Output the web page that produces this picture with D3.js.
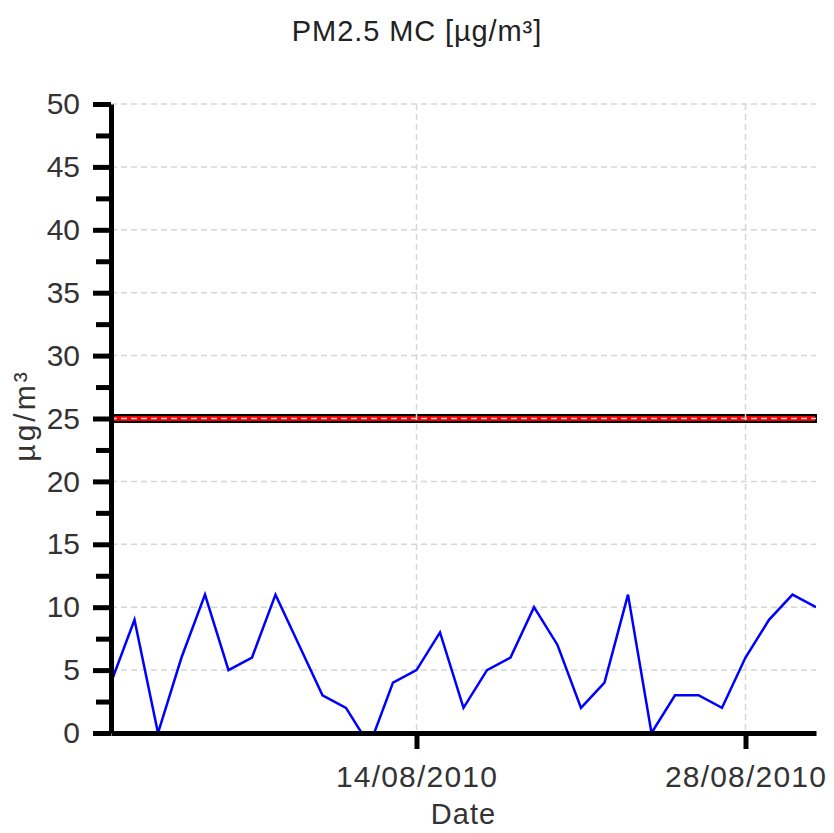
<!DOCTYPE html>
<html>
<head>
<meta charset="utf-8">
<script src="https://cdn.jsdelivr.net/npm/d3@7"></script>
<style>
  body { margin: 0; background: #fff; }
  svg { font-family: "Liberation Sans", Arial, sans-serif; }
</style>
</head>
<body>
<div id="chart"></div>
<script>
// Daily PM2.5 readings, August 2010
const startDate = "01/08/2010";
const endDate = "31/08/2010";
const pm25 = [4, 9, 0, 6, 11, 5, 6, 11, 7, 3, 2, -1, 4, 5, 8, 2, 5, 6, 10, 7,
  2, 4, 11, 0, 3, 3, 2, 6, 9, 11, 10];
const dateTicks = ["14/08/2010", "28/08/2010"];
const yTicks = [0, 5, 10, 15, 20, 25, 30, 35, 40, 45, 50];
const yMinorTicks = [2.5, 7.5, 12.5, 17.5, 22.5, 27.5, 32.5, 37.5, 42.5, 47.5];
const limitValue = 25;

const width = 834;
const height = 833;
const margin = { top: 104, right: 18, bottom: 100, left: 111 };

const parse = d3.timeParse("%d/%m/%Y");
const fmt = d3.timeFormat("%d/%m/%Y");
const t0 = parse(startDate);
const t1 = parse(endDate);
const days = d3.timeDay.range(t0, d3.timeDay.offset(t1, 1));
const data = days.map((d, i) => ({ date: d, value: pm25[i] }));

const svg = d3.select("#chart").append("svg")
  .attr("width", width)
  .attr("height", height);

const x = d3.scaleTime().domain([t0, t1]).range([margin.left, width - margin.right]);
const y = d3.scaleLinear().domain([0, 50]).range([height - margin.bottom, margin.top]);

svg.append("defs").append("clipPath").attr("id", "plot-clip")
  .append("rect")
  .attr("x", margin.left)
  .attr("y", margin.top)
  .attr("width", width - margin.left - margin.right)
  .attr("height", height - margin.top - margin.bottom);

// limit band at 25
svg.append("rect")
  .attr("x", x(t0))
  .attr("y", y(limitValue) - 3.5)
  .attr("width", x(t1) - x(t0))
  .attr("height", 7)
  .attr("fill", "#f00000")
  .attr("stroke", "#000")
  .attr("stroke-width", 2);

// grid
svg.append("g")
  .selectAll("line")
  .data(yTicks.filter(v => v > 0))
  .join("line")
  .attr("x1", margin.left)
  .attr("x2", width - margin.right)
  .attr("y1", d => y(d))
  .attr("y2", d => y(d))
  .attr("stroke", "#d6d6d6")
  .attr("stroke-width", 1.5)
  .attr("stroke-dasharray", "6,4");

svg.append("g")
  .selectAll("line")
  .data(dateTicks.map(parse))
  .join("line")
  .attr("x1", d => x(d))
  .attr("x2", d => x(d))
  .attr("y1", margin.top)
  .attr("y2", height - margin.bottom)
  .attr("stroke", "#d6d6d6")
  .attr("stroke-width", 1.5)
  .attr("stroke-dasharray", "6,4");

// data line
const line = d3.line()
  .x(d => x(d.date))
  .y(d => y(d.value));

svg.append("path")
  .datum(data)
  .attr("clip-path", "url(#plot-clip)")
  .attr("fill", "none")
  .attr("stroke", "#0000ff")
  .attr("stroke-width", 2.5)
  .attr("d", line);

// axes
svg.append("g")
  .attr("transform", `translate(${margin.left},0)`)
  .call(d3.axisLeft(y).tickValues(yTicks).tickSize(18).tickSizeOuter(0).tickPadding(13));

svg.append("g")
  .attr("transform", `translate(${margin.left},0)`)
  .call(d3.axisLeft(y).tickValues(yMinorTicks).tickSize(15).tickSizeOuter(0).tickFormat(""))
  .call(g => g.select(".domain").remove());

const xAxis = svg.append("g")
  .attr("transform", `translate(0,${height - margin.bottom})`)
  .call(d3.axisBottom(x).tickValues(dateTicks.map(parse)).tickFormat(fmt)
    .tickSize(16).tickSizeOuter(0).tickPadding(17));

svg.selectAll(".domain").attr("stroke", "#000").attr("stroke-width", 5);
svg.selectAll(".tick line").attr("stroke", "#000").attr("stroke-width", 5);
svg.selectAll(".tick text")
  .attr("fill", "#333")
  .attr("font-size", 30)
  .attr("font-family", "Liberation Sans, Arial, sans-serif");
xAxis.selectAll(".tick text").attr("letter-spacing", 1.2);

// titles
svg.append("text")
  .attr("x", width / 2)
  .attr("y", 41)
  .attr("text-anchor", "middle")
  .attr("font-size", 29)
  .attr("letter-spacing", 0.9)
  .attr("fill", "#222")
  .text("PM2.5 MC [µg/m³]");

svg.append("text")
  .attr("x", (margin.left + width - margin.right) / 2)
  .attr("y", 824)
  .attr("text-anchor", "middle")
  .attr("font-size", 29)
  .attr("letter-spacing", 1)
  .attr("fill", "#333")
  .text("Date");

svg.append("text")
  .attr("transform", `translate(35,${y(25) - 3}) rotate(-90)`)
  .attr("text-anchor", "middle")
  .attr("font-size", 30)
  .attr("letter-spacing", 3)
  .attr("fill", "#333")
  .text("µg/m³");
</script>
</body>
</html>
